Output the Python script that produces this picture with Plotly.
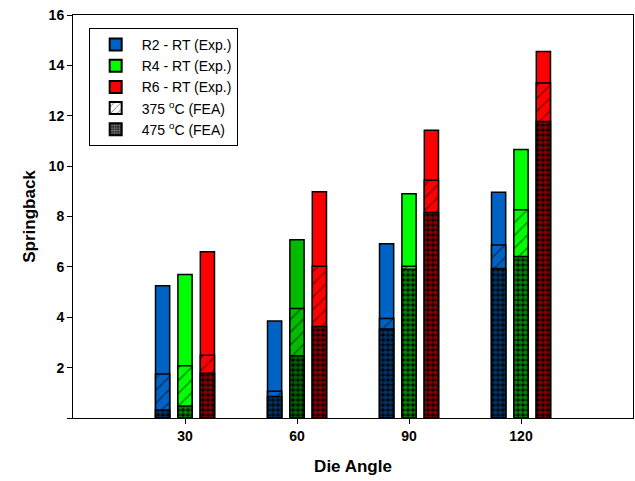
import plotly.graph_objects as go

angles = [30, 60, 90, 120]

# Experimental (room temperature) springback
r2_exp = [5.25, 3.85, 6.92, 8.96]
r4_exp = [5.70, 7.08, 8.90, 10.66]
r6_exp = [6.60, 8.98, 11.42, 14.55]

# FEA at 375 °C
r2_375 = [1.75, 1.06, 3.95, 6.87]
r4_375 = [2.07, 4.35, 6.02, 8.27]
r6_375 = [2.49, 6.02, 9.44, 13.30]

# FEA at 475 °C
r2_475 = [0.32, 0.85, 3.53, 5.94]
r4_475 = [0.48, 2.47, 5.91, 6.41]
r6_475 = [1.78, 3.63, 8.16, 11.77]

blue = ["#0062C4"] * 4
green = ["#00FF00", "#00BB00", "#00FF00", "#00FF00"]
red = ["#FF0000"] * 4

W = 3.8
offsets = {"R2": -6, "R4": 0, "R6": 6}
series = [
    ("R2", "R2 - RT (Exp.)", blue, r2_exp, r2_375, r2_475),
    ("R4", "R4 - RT (Exp.)", green, r4_exp, r4_375, r4_475),
    ("R6", "R6 - RT (Exp.)", red, r6_exp, r6_375, r6_475),
]

fig = go.Figure()
line = dict(color="black", width=1.5)
rank = 1
for key, name, cols, exp, f375, f475 in series:
    off = offsets[key] - W / 2
    first = True
    for c in dict.fromkeys(cols):
        idx = [i for i, cc in enumerate(cols) if cc == c]
        xs = [angles[i] for i in idx]
        fig.add_trace(go.Bar(x=xs, y=[exp[i] for i in idx], width=W, offset=off,
                             name=name, legendgroup=key, showlegend=first,
                             marker=dict(color=cols[0] if first else c, line=line),
                             legendrank=rank))
        fig.add_trace(go.Bar(x=xs, y=[f375[i] for i in idx], width=W, offset=off,
                             showlegend=False,
                             marker=dict(color=c, line=line,
                                         pattern=dict(shape="/", fgcolor="black", bgcolor=c,
                                                      size=9, solidity=0.15))))
        fig.add_trace(go.Bar(x=xs, y=[f475[i] for i in idx], width=W, offset=off,
                             showlegend=False,
                             marker=dict(color=c, line=line,
                                         pattern=dict(shape=".", fgcolor=c, bgcolor="black",
                                                      size=5, solidity=0.7))))
        first = False
    rank += 1

fig.add_trace(go.Bar(x=[None], y=[None], name="375 <sup>o</sup>C (FEA)", legendrank=4,
                     marker=dict(color="white", line=line,
                                 pattern=dict(shape="/", fgcolor="black", bgcolor="white",
                                              size=6, solidity=0.2))))
fig.add_trace(go.Bar(x=[None], y=[None], name="475 <sup>o</sup>C (FEA)", legendrank=5,
                     marker=dict(color="white", line=line,
                                 pattern=dict(shape=".", fgcolor="white", bgcolor="black",
                                              size=3, solidity=0.6))))

yticks = list(range(0, 17, 2))
fig.update_layout(
    width=635, height=481,
    barmode="overlay",
    plot_bgcolor="white", paper_bgcolor="white",
    margin=dict(l=73, r=2, t=15, b=63),
    font=dict(family="Liberation Sans, Arial, sans-serif", color="black"),
    showlegend=True,
    legend=dict(x=0.028, y=0.968, xanchor="left", yanchor="top",
                bordercolor="black", borderwidth=1, bgcolor="white",
                font=dict(size=14), tracegroupgap=0, itemsizing="constant",
                itemwidth=42, traceorder="normal"),
    xaxis=dict(range=[0, 150], tickvals=angles, ticktext=[str(a) for a in angles],
               ticks="outside", ticklen=5, tickcolor="black",
               showline=True, linecolor="black", linewidth=1, mirror=True,
               showgrid=False, zeroline=False,
               tickfont=dict(size=14, weight="bold"),
               title=dict(text="Die Angle", font=dict(size=17, weight="bold"), standoff=17)),
    yaxis=dict(range=[0, 16], tickvals=yticks, ticktext=[""] + [str(v) for v in yticks[1:]],
               ticks="outside", ticklen=5, tickcolor="black",
               showline=True, linecolor="black", linewidth=1, mirror=True,
               showgrid=False, zeroline=False,
               tickfont=dict(size=14, weight="bold"),
               title=dict(text="Springback", font=dict(size=17, weight="bold"), standoff=8)),
)

fig.write_html("out.html", config={"displayModeBar": False},
               post_script="document.body.style.margin='0';")
